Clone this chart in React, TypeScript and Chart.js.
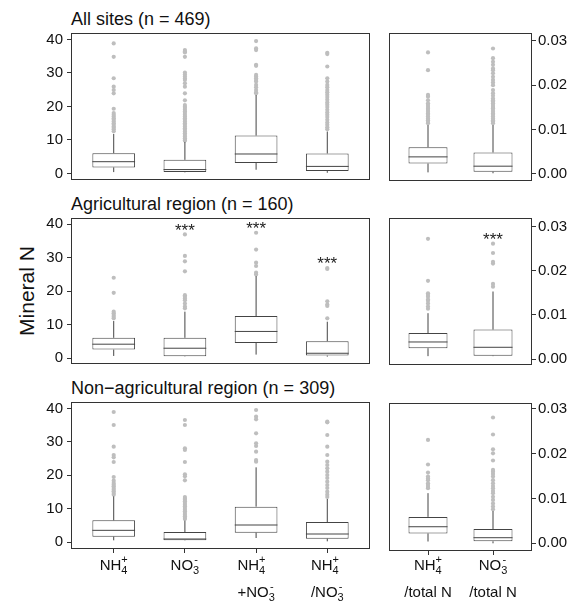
import React, { useEffect, useRef } from 'react';
import { Chart, registerables } from 'chart.js';

Chart.register(...registerables);

// ---------- text ----------
const panelTitles = ['All sites (n = 469)', 'Agricultural region (n = 160)', 'Non\u2212agricultural region (n = 309)'];
const yAxisTitle = 'Mineral N';
// "[sub|sup]" marks a stacked subscript / superscript, "\n" separates lines
const leftCategories = ['NH[4|+]', 'NO[3|-]', 'NH[4|+]\n+NO[3|-]', 'NH[4|+]\n/NO[3|-]'];
const rightCategories = ['NH[4|+]\n/total N', 'NO[3|-]\n/total N'];
const leftTicks = [0, 10, 20, 30, 40];
const rightTicks = [0, 0.01, 0.02, 0.03];

// ---------- data: [lower whisker, Q1, median, Q3, upper whisker] ----------
const allLeftBoxes = [
  [0.4, 1.8, 3.5, 6.05, 11.8],
  [0.3, 0.4, 1.15, 4.05, 9.4],
  [1.1, 3.1, 5.8, 11.3, 23.4],
  [0.2, 0.7, 2.1, 5.95, 12.5],
];
const allLeftOutliers = [
  [38.8, 34.8, 28.4, 25.9, 24.9, 23.9, 19.3, 18.0, 17.5, 17.0, 16.5, 16.0, 15.5, 15.0, 14.5, 14.0, 13.6, 13.2, 12.6],
  [36.8, 36.4, 36.1, 34.8, 30.1, 29.5, 28.9, 28.3, 27.9, 26.9, 25.9, 23.9, 21.8, 20.4, 19.9, 19.5, 19.0, 18.5, 18.0, 17.5, 17.0, 16.5, 16.0, 15.5, 15.0, 14.5, 14.0, 13.5, 13.0, 12.5, 12.0, 11.5, 11.0, 10.5, 10.0, 9.8],
  [39.5, 37.3, 36.8, 32.4, 32.1, 29.4, 28.9, 28.4, 27.9, 27.4, 26.4, 25.7, 24.9, 24.2, 23.9],
  [36.0, 35.6, 31.9, 28.4, 27.4, 26.4, 25.7, 24.9, 24.2, 23.5, 22.8, 22.0, 21.2, 20.5, 19.8, 19.0, 18.2, 17.5, 16.8, 16.0, 15.2, 14.5, 13.8, 13.2],
];
const allRightBoxes = [
  [0.0003, 0.0023, 0.0038, 0.006, 0.011],
  [0.0001, 0.00045, 0.0017, 0.0048, 0.011],
];
const allRightOutliers = [
  [0.0274, 0.0234, 0.0178, 0.0174, 0.0166, 0.0159, 0.0155, 0.0151, 0.0147, 0.0144, 0.014, 0.0136, 0.0133, 0.0129, 0.0125, 0.0121, 0.0117, 0.0114],
  [0.0283, 0.0261, 0.0253, 0.0246, 0.0238, 0.0234, 0.0227, 0.0219, 0.0212, 0.0206, 0.02, 0.0189, 0.0182, 0.0176, 0.017, 0.0166, 0.0163, 0.0159, 0.0155, 0.0151, 0.0148, 0.0144, 0.014, 0.0136, 0.0133, 0.0129, 0.0125, 0.0121, 0.0118, 0.0114],
];

const agriLeftBoxes = [
  [0.7, 2.6, 4.2, 6.1, 11.1],
  [0.5, 0.6, 3.0, 6.1, 13.9],
  [1.1, 4.55, 8.0, 12.6, 24.5],
  [0.5, 0.8, 1.5, 5.1, 10.9],
];
const agriLeftOutliers = [
  [24.0, 19.5, 13.9, 13.4, 12.9, 12.4, 11.9],
  [36.9, 30.5, 28.9, 25.9, 18.8, 18.3, 17.8, 17.3, 16.3, 15.4, 14.9],
  [37.4, 32.4, 28.5, 27.5, 25.5, 25.0],
  [26.9, 26.6, 17.0, 16.0, 15.6, 11.9],
];
const agriLeftSig = ['', '***', '***', '***'];
const agriRightBoxes = [
  [0.0007, 0.0025, 0.0039, 0.0059, 0.0104],
  [0.0007, 0.0008, 0.0027, 0.0067, 0.0153],
];
const agriRightOutliers = [
  [0.0272, 0.0177, 0.0149, 0.0145, 0.0141, 0.0135, 0.0132, 0.0126, 0.0119, 0.0114],
  [0.0261, 0.024, 0.022, 0.0216, 0.017, 0.0164],
];
const agriRightSig = ['', '***'];

const nonLeftBoxes = [
  [0.5, 1.6, 3.5, 6.5, 13.7],
  [0.4, 0.5, 0.9, 3.0, 6.4],
  [1.2, 2.8, 5.1, 10.6, 22.4],
  [0.2, 1.0, 2.4, 6.0, 12.9],
];
const nonLeftOutliers = [
  [39.0, 35.1, 28.6, 26.1, 25.4, 24.0, 19.5, 18.4, 17.7, 17.2, 16.7, 16.2, 15.7, 15.2, 14.7, 14.2],
  [36.6, 35.1, 28.1, 27.6, 24.0, 20.3, 19.7, 18.5, 13.5, 13.0, 12.7, 12.2, 11.7, 11.2, 10.7, 10.2, 9.7, 9.2, 8.7, 8.2, 7.7, 7.2, 6.9],
  [39.6, 37.6, 36.8, 32.6, 29.6, 28.8, 27.1, 24.6, 24.1],
  [36.1, 35.9, 32.1, 28.6, 26.1, 24.1, 23.1, 22.1, 21.1, 20.1, 19.2, 18.1, 17.1, 16.2, 15.1, 14.2, 13.5],
];
const nonRightBoxes = [
  [0.0004, 0.0022, 0.0037, 0.0059, 0.0112],
  [0.0, 0.00045, 0.00125, 0.0032, 0.0072],
];
const nonRightOutliers = [
  [0.0231, 0.0176, 0.0158, 0.0149, 0.0145, 0.0141, 0.0134, 0.013, 0.0126, 0.0123],
  [0.0281, 0.0243, 0.021, 0.0201, 0.0185, 0.0164, 0.016, 0.0155, 0.0149, 0.0141, 0.0134, 0.0128, 0.0123, 0.0117, 0.0112, 0.0104, 0.0097, 0.0089, 0.0082, 0.0076],
];

// ---------- style ----------
const FONT = "'Liberation Sans', Arial, Helvetica, sans-serif";
const TEXT = '#111111';
const FRAME = '#333333';
const BOX_COLOR = '#444444';
const OUTLIER = '#bebebe';
const BOX_WIDTH = 0.6;
const PAD = 16;

type PanelSpec = {
  side: 'left' | 'right';
  left: number;
  top: number;
  h: number;
  yMin: number;
  yMax: number;
  boxes: number[][];
  outliers: number[][];
  sig?: string[];
  bottom: boolean;
};

function parseLine(line: string) {
  const parts: { text: string; sub?: string; sup?: string }[] = [];
  const re = /\[([^|\]]*)\|([^\]]*)\]/g;
  let last = 0;
  let m: RegExpExecArray | null;
  while ((m = re.exec(line))) {
    if (m.index > last) parts.push({ text: line.slice(last, m.index) });
    parts.push({ text: '', sub: m[1], sup: m[2] });
    last = re.lastIndex;
  }
  if (last < line.length) parts.push({ text: line.slice(last) });
  return parts;
}

const MAIN_FONT = `15px ${FONT}`;
const SCRIPT_FONT = `11px ${FONT}`;

function lineWidth(ctx: CanvasRenderingContext2D, parts: ReturnType<typeof parseLine>) {
  let w = 0;
  for (const p of parts) {
    if (p.sub !== undefined) {
      ctx.font = SCRIPT_FONT;
      w += Math.max(ctx.measureText(p.sub).width, ctx.measureText(p.sup || '').width);
    } else {
      ctx.font = MAIN_FONT;
      w += ctx.measureText(p.text).width;
    }
  }
  return w;
}

function makeConfig(spec: PanelSpec, canvasH: number): any {
  const cats = spec.side === 'left' ? leftCategories : rightCategories;
  const n = cats.length;
  const half = BOX_WIDTH / 2;
  const boxData = spec.boxes.map((b, i) => ({ x: i + 1, y: [b[1], b[3]] }));
  const medianData = spec.boxes.flatMap((b, i) => [
    { x: i + 1 - half, y: b[2] },
    { x: i + 1 + half, y: b[2] },
    { x: i + 1 + half, y: null },
  ]);
  const whiskerData = spec.boxes.flatMap((b, i) => [
    { x: i + 1, y: b[0] },
    { x: i + 1, y: b[1] },
    { x: i + 1, y: null },
    { x: i + 1, y: b[3] },
    { x: i + 1, y: b[4] },
    { x: i + 1, y: null },
  ]);
  const outlierData = spec.outliers.flatMap((o, i) => o.map((v) => ({ x: i + 1, y: v })));
  const ticksY = spec.side === 'left' ? leftTicks : rightTicks;
  const xAxisH = spec.bottom ? canvasH - PAD - spec.h : 0;

  const framePlugin = {
    id: 'frame',
    afterDatasetsDraw(chart: any) {
      const { ctx, chartArea: a } = chart;
      ctx.save();
      ctx.strokeStyle = FRAME;
      ctx.lineWidth = 1;
      const x0 = Math.round(a.left) + 0.5;
      const y0 = Math.round(a.top) + 0.5;
      const x1 = Math.round(a.right) - 0.5;
      const y1 = Math.round(a.bottom) - 0.5;
      ctx.strokeRect(x0, y0, x1 - x0, y1 - y0);
      ctx.restore();
    },
  };

  const sigPlugin = {
    id: 'sig',
    afterDatasetsDraw(chart: any) {
      if (!spec.sig) return;
      const { ctx, scales } = chart;
      ctx.save();
      const fs = 17;
      ctx.font = `${fs}px ${FONT}`;
      ctx.fillStyle = '#222';
      ctx.textAlign = 'center';
      ctx.textBaseline = 'alphabetic';
      spec.sig.forEach((s, i) => {
        if (!s) return;
        const topVal = Math.max(spec.boxes[i][4], ...spec.outliers[i]);
        const cy = scales.y.getPixelForValue(topVal) - 8.5;
        ctx.fillText(s, scales.x.getPixelForValue(i + 1), cy + 0.575 * fs);
      });
      ctx.restore();
    },
  };

  const labelPlugin = {
    id: 'chemLabels',
    afterDraw(chart: any) {
      if (!spec.bottom) return;
      const { ctx, scales } = chart;
      ctx.save();
      ctx.fillStyle = TEXT;
      ctx.textAlign = 'left';
      ctx.textBaseline = 'alphabetic';
      cats.forEach((label, i) => {
        const cx = scales.x.getPixelForValue(i + 1);
        const lines = label.split('\n').map(parseLine);
        const widths = lines.map((l) => lineWidth(ctx, l));
        const blockW = Math.max(...widths);
        lines.forEach((parts, li) => {
          const base = chart.height - 31 + li * 27;
          let x = spec.side === 'left' ? cx - blockW / 2 : cx - widths[li] / 2;
          for (const p of parts) {
            if (p.sub !== undefined) {
              ctx.font = SCRIPT_FONT;
              const ws = ctx.measureText(p.sub).width;
              const wp = ctx.measureText(p.sup || '').width;
              ctx.fillText(p.sub, x, base + 3.5);
              ctx.fillText(p.sup || '', x + (Math.max(ws, wp) - wp) / 2, base - 7.5);
              x += Math.max(ws, wp);
            } else {
              ctx.font = MAIN_FONT;
              ctx.fillText(p.text, x, base);
              x += ctx.measureText(p.text).width;
            }
          }
        });
      });
      ctx.restore();
    },
  };

  return {
    type: 'bar',
    data: {
      datasets: [
        {
          type: 'scatter',
          data: outlierData,
          backgroundColor: OUTLIER,
          borderWidth: 0,
          pointRadius: 2.1,
          order: 4,
        },
        {
          type: 'line',
          data: whiskerData,
          borderColor: BOX_COLOR,
          borderWidth: 1,
          pointRadius: 0,
          spanGaps: false,
          fill: false,
          order: 3,
        },
        {
          type: 'bar',
          data: boxData,
          backgroundColor: '#ffffff',
          borderColor: BOX_COLOR,
          borderWidth: 1,
          borderSkipped: false,
          categoryPercentage: 1,
          barPercentage: BOX_WIDTH,
          order: 2,
        },
        {
          type: 'line',
          data: medianData,
          borderColor: BOX_COLOR,
          borderWidth: 1,
          pointRadius: 0,
          spanGaps: false,
          fill: false,
          order: 1,
        },
      ],
    },
    options: {
      animation: false,
      responsive: false,
      events: [],
      layout: {
        padding: {
          top: PAD,
          bottom: spec.bottom ? 0 : PAD,
          left: spec.side === 'right' ? 2 : 0,
          right: spec.side === 'left' ? 1 : 0,
        },
      },
      plugins: { legend: { display: false }, tooltip: { enabled: false }, title: { display: false } },
      scales: {
        x: {
          type: 'linear',
          min: 0.4,
          max: n + 0.6,
          offset: false,
          bounds: 'data',
          display: spec.bottom,
          afterBuildTicks: (s: any) => {
            s.ticks = cats.map((_, i) => ({ value: i + 1 }));
          },
          afterFit: (s: any) => {
            s.height = xAxisH;
          },
          ticks: { callback: () => '', autoSkip: false, maxRotation: 0, font: { family: FONT, size: 15 } },
          grid: { offset: false, drawOnChartArea: false, drawTicks: true, tickLength: 4, color: FRAME, lineWidth: 1 },
          border: { display: false },
        },
        y: {
          type: 'linear',
          position: spec.side,
          min: spec.yMin,
          max: spec.yMax,
          afterBuildTicks: (s: any) => {
            s.ticks = ticksY.map((v) => ({ value: v }));
          },
          afterFit: (s: any) => {
            s.width = spec.side === 'left' ? 71 : 46;
          },
          ticks: {
            callback: (v: number) => (spec.side === 'left' ? String(v) : v.toFixed(2)),
            font: { family: FONT, size: 15 },
            color: TEXT,
            padding: spec.side === 'left' ? 4 : 2,
          },
          grid: { drawOnChartArea: false, drawTicks: true, tickLength: 4, color: FRAME, lineWidth: 1 },
          border: { display: false },
        },
      },
    },
    plugins: [framePlugin, sigPlugin, labelPlugin],
  };
}

function Panel({ spec }: { spec: PanelSpec }) {
  const ref = useRef<HTMLCanvasElement>(null);
  const canvasTop = spec.top - PAD;
  const width = spec.side === 'left' ? 374 : 193;
  const height = spec.bottom ? 601 - canvasTop : spec.h + 2 * PAD;
  useEffect(() => {
    const chart = new Chart(ref.current as HTMLCanvasElement, makeConfig(spec, height));
    return () => chart.destroy();
  }, []);
  return (
    <canvas
      ref={ref}
      width={width}
      height={height}
      style={{ position: 'absolute', left: spec.left, top: canvasTop, width, height, display: 'block' }}
    />
  );
}

const panels: PanelSpec[] = [
  { side: 'left', left: 0, top: 33, h: 147, yMin: -1.96, yMax: 41.9, boxes: allLeftBoxes, outliers: allLeftOutliers, bottom: false },
  { side: 'right', left: 385, top: 33, h: 148, yMin: -0.00165, yMax: 0.0318, boxes: allRightBoxes, outliers: allRightOutliers, bottom: false },
  { side: 'left', left: 0, top: 218, h: 146, yMin: -1.7, yMax: 41.8, boxes: agriLeftBoxes, outliers: agriLeftOutliers, sig: agriLeftSig, bottom: false },
  { side: 'right', left: 385, top: 218, h: 147, yMin: -0.0013, yMax: 0.0319, boxes: agriRightBoxes, outliers: agriRightOutliers, sig: agriRightSig, bottom: false },
  { side: 'left', left: 0, top: 402, h: 147, yMin: -2.1, yMax: 42.0, boxes: nonLeftBoxes, outliers: nonLeftOutliers, bottom: true },
  { side: 'right', left: 385, top: 403, h: 148, yMin: -0.00172, yMax: 0.03134, boxes: nonRightBoxes, outliers: nonRightOutliers, bottom: true },
];

const titleTops = [9.8, 194.8, 378.8];

export default function App() {
  return (
    <div
      style={{
        position: 'absolute',
        left: 0,
        top: 0,
        width: 578,
        height: 601,
        overflow: 'hidden',
        background: '#ffffff',
        fontFamily: FONT,
        color: TEXT,
      }}
    >
      {panelTitles.map((t, i) => (
        <div
          key={t}
          style={{ position: 'absolute', left: 71, top: titleTops[i], fontSize: 18, lineHeight: '18px', whiteSpace: 'nowrap' }}
        >
          {t}
        </div>
      ))}
      <div
        style={{
          position: 'absolute',
          left: 25.5,
          top: 291,
          transform: 'translate(-50%, -50%) rotate(-90deg)',
          fontSize: 21,
          lineHeight: '21px',
          whiteSpace: 'nowrap',
        }}
      >
        {yAxisTitle}
      </div>
      {panels.map((p, i) => (
        <Panel key={i} spec={p} />
      ))}
    </div>
  );
}
